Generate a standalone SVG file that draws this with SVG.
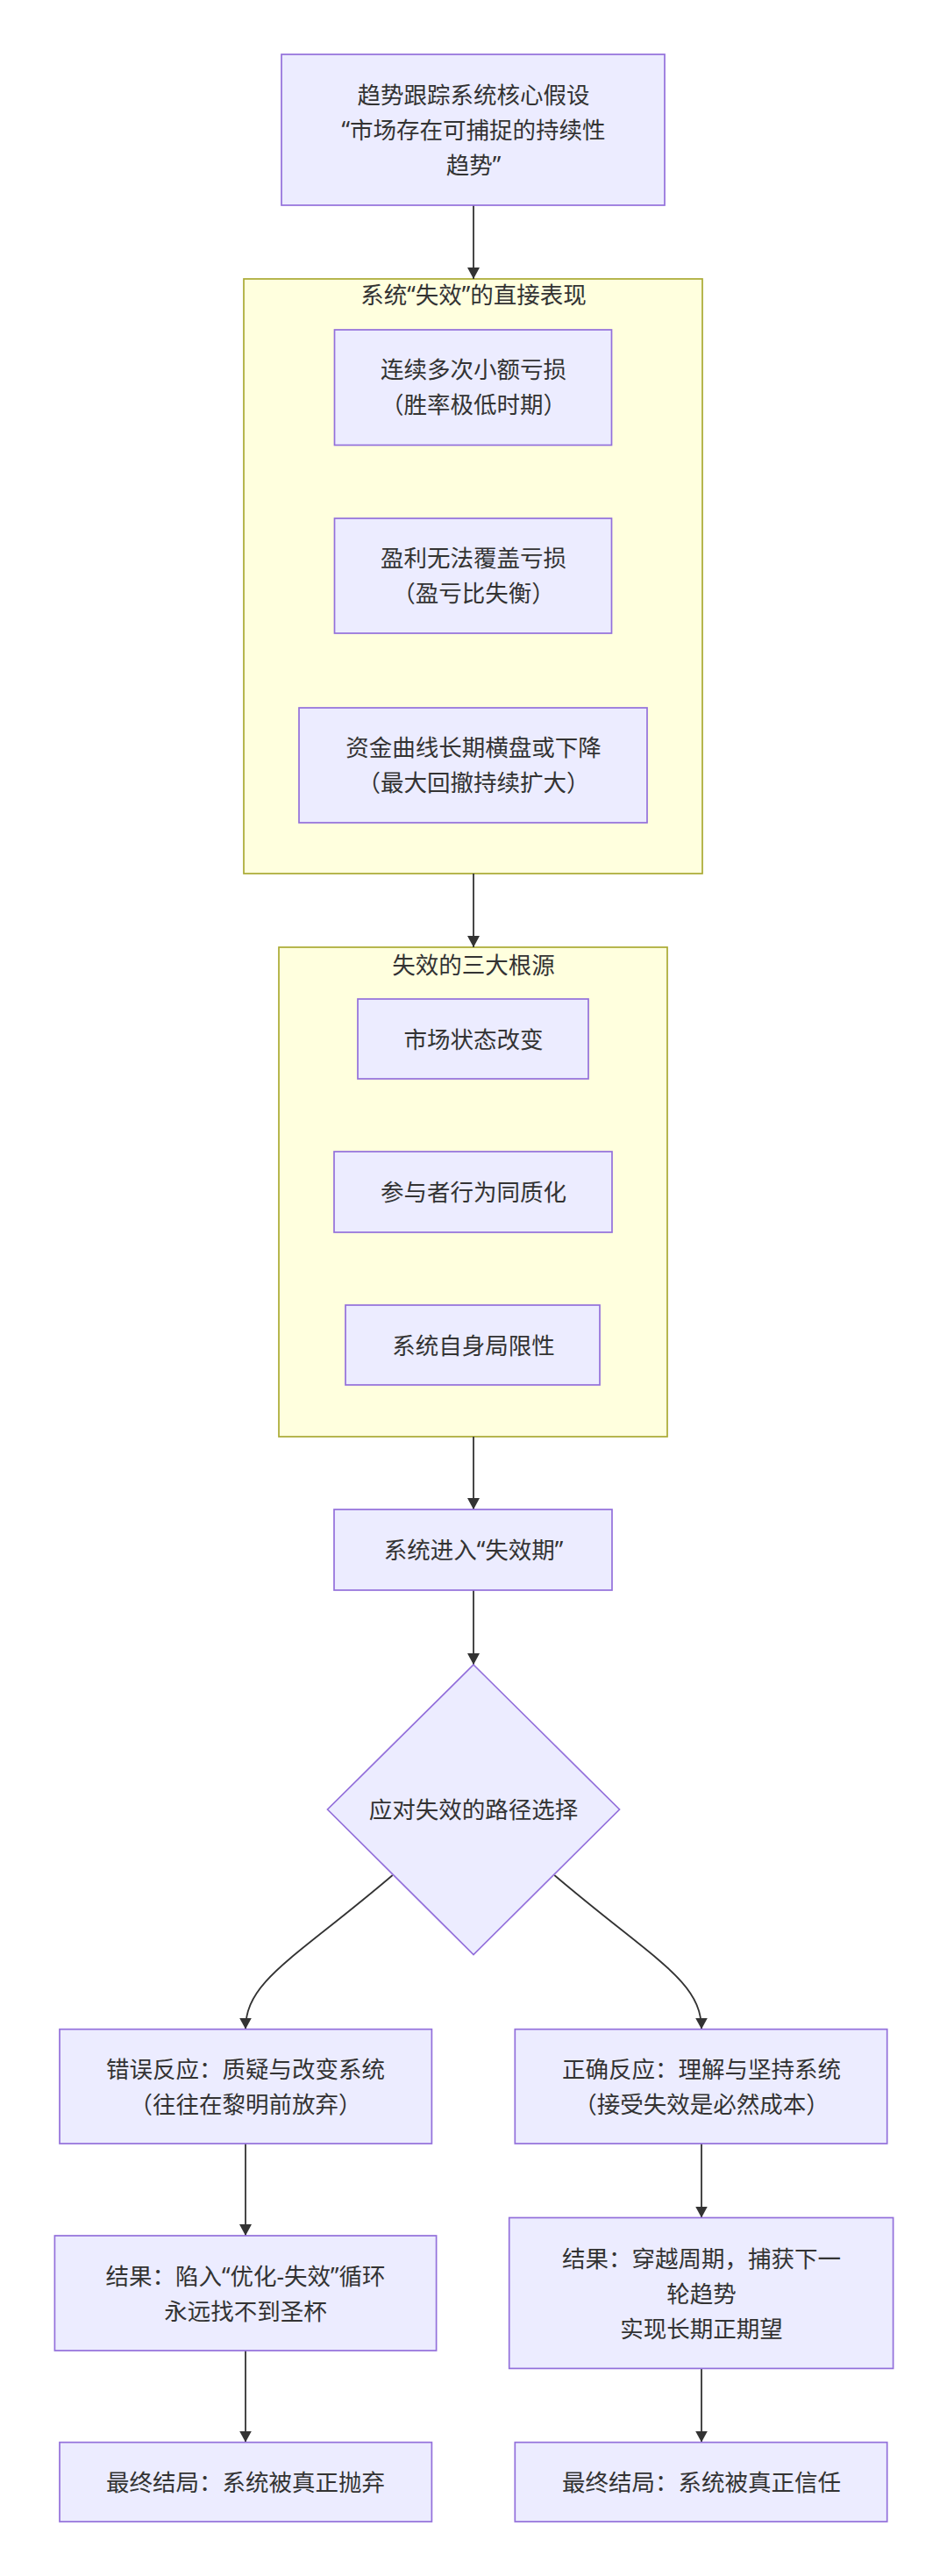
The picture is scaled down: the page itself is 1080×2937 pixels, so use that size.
<svg xmlns="http://www.w3.org/2000/svg" width="1080" height="2937" viewBox="0 0 1080 2937">
<style>
.bg{fill:#ffffff}
.node{fill:#ECECFF;stroke:#9370DB;stroke-width:1.7}
.cluster{fill:#ffffde;stroke:#aaaa33;stroke-width:1.7}
.t{font-family:"Noto Sans","Noto Sans CJK SC",sans-serif;font-size:26.5px;fill:#333333;text-anchor:middle;dominant-baseline:central}
.edge{fill:none;stroke:#333333;stroke-width:1.8}
</style>
<defs>
<marker id="arrow" markerUnits="userSpaceOnUse" markerWidth="14" markerHeight="14" refX="13" refY="7" orient="auto">
<path d="M0,0 L13,7 L0,14 z" fill="#333333"/>
</marker>
</defs>
<rect class="bg" x="0" y="0" width="1080" height="2937"/>

<g id="cluster1">
<rect class="cluster" x="278" y="318" width="523" height="678"/>
<text class="t" x="540" y="336">系统“失效”的直接表现</text>
</g>
<g id="cluster2">
<rect class="cluster" x="318" y="1080" width="443" height="558"/>
<text class="t" x="540" y="1100">失效的三大根源</text>
</g>

<g id="connectors">
<path class="edge" d="M540,234 L540,318" marker-end="url(#arrow)"/>
<path class="edge" d="M540,996 L540,1080" marker-end="url(#arrow)"/>
<path class="edge" d="M540,1638 L540,1721" marker-end="url(#arrow)"/>
<path class="edge" d="M540,1813 L540,1898" marker-end="url(#arrow)"/>
<path class="edge" d="M447.7,2138 C335,2234 280,2258 280,2313.6" marker-end="url(#arrow)"/>
<path class="edge" d="M632.3,2138 C745,2234 800,2258 800,2313.6" marker-end="url(#arrow)"/>
<path class="edge" d="M280,2444 L280,2549" marker-end="url(#arrow)"/>
<path class="edge" d="M280,2680 L280,2784.6" marker-end="url(#arrow)"/>
<path class="edge" d="M800,2444 L800,2528.5" marker-end="url(#arrow)"/>
<path class="edge" d="M800,2700.4 L800,2784.6" marker-end="url(#arrow)"/>
</g>

<g id="n_hypothesis">
<rect class="node" x="321" y="62" width="437" height="172"/>
<text class="t" x="540" y="108">趋势跟踪系统核心假设</text>
<text class="t" x="540" y="148">“市场存在可捕捉的持续性</text>
<text class="t" x="540" y="188">趋势”</text>
</g>

<g id="n_losses">
<rect class="node" x="381.5" y="376" width="316" height="131.5"/>
<text class="t" x="540" y="421">连续多次小额亏损</text>
<text class="t" x="540" y="461">（胜率极低时期）</text>
</g>
<g id="n_ratio">
<rect class="node" x="381.5" y="591" width="316" height="131"/>
<text class="t" x="540" y="636">盈利无法覆盖亏损</text>
<text class="t" x="540" y="676">（盈亏比失衡）</text>
</g>
<g id="n_equity">
<rect class="node" x="341" y="807" width="397" height="131"/>
<text class="t" x="540" y="852">资金曲线长期横盘或下降</text>
<text class="t" x="540" y="892">（最大回撤持续扩大）</text>
</g>

<g id="n_market">
<rect class="node" x="408" y="1139" width="263" height="91"/>
<text class="t" x="540" y="1184.5">市场状态改变</text>
</g>
<g id="n_homog">
<rect class="node" x="381" y="1313" width="317" height="92"/>
<text class="t" x="540" y="1359">参与者行为同质化</text>
</g>
<g id="n_limits">
<rect class="node" x="394" y="1488" width="290" height="91"/>
<text class="t" x="540" y="1533.5">系统自身局限性</text>
</g>

<g id="n_period">
<rect class="node" x="381" y="1721" width="317" height="92"/>
<text class="t" x="540" y="1767">系统进入“失效期”</text>
</g>

<g id="n_choice">
<polygon class="node" points="540,1898 706.5,2063 540,2228.5 373.5,2063"/>
<text class="t" x="540" y="2063">应对失效的路径选择</text>
</g>

<g id="n_wrong">
<rect class="node" x="68" y="2313.6" width="424.4" height="130.4"/>
<text class="t" x="280" y="2359">错误反应：质疑与改变系统</text>
<text class="t" x="280" y="2399">（往往在黎明前放弃）</text>
</g>
<g id="n_wrong_result">
<rect class="node" x="62.4" y="2549" width="435.2" height="131"/>
<text class="t" x="280" y="2594.5">结果：陷入“优化-失效”循环</text>
<text class="t" x="280" y="2634.5">永远找不到圣杯</text>
</g>
<g id="n_wrong_final">
<rect class="node" x="68" y="2784.6" width="424.4" height="90.4"/>
<text class="t" x="280" y="2830">最终结局：系统被真正抛弃</text>
</g>

<g id="n_right">
<rect class="node" x="587.3" y="2313.6" width="424.4" height="130.4"/>
<text class="t" x="800" y="2359">正确反应：理解与坚持系统</text>
<text class="t" x="800" y="2399">（接受失效是必然成本）</text>
</g>
<g id="n_right_result">
<rect class="node" x="580.7" y="2528.5" width="437.9" height="171.9"/>
<text class="t" x="800" y="2574.5">结果：穿越周期，捕获下一</text>
<text class="t" x="800" y="2614.5">轮趋势</text>
<text class="t" x="800" y="2654.5">实现长期正期望</text>
</g>
<g id="n_right_final">
<rect class="node" x="587.3" y="2784.6" width="424.4" height="90.4"/>
<text class="t" x="800" y="2830">最终结局：系统被真正信任</text>
</g>
</svg>
